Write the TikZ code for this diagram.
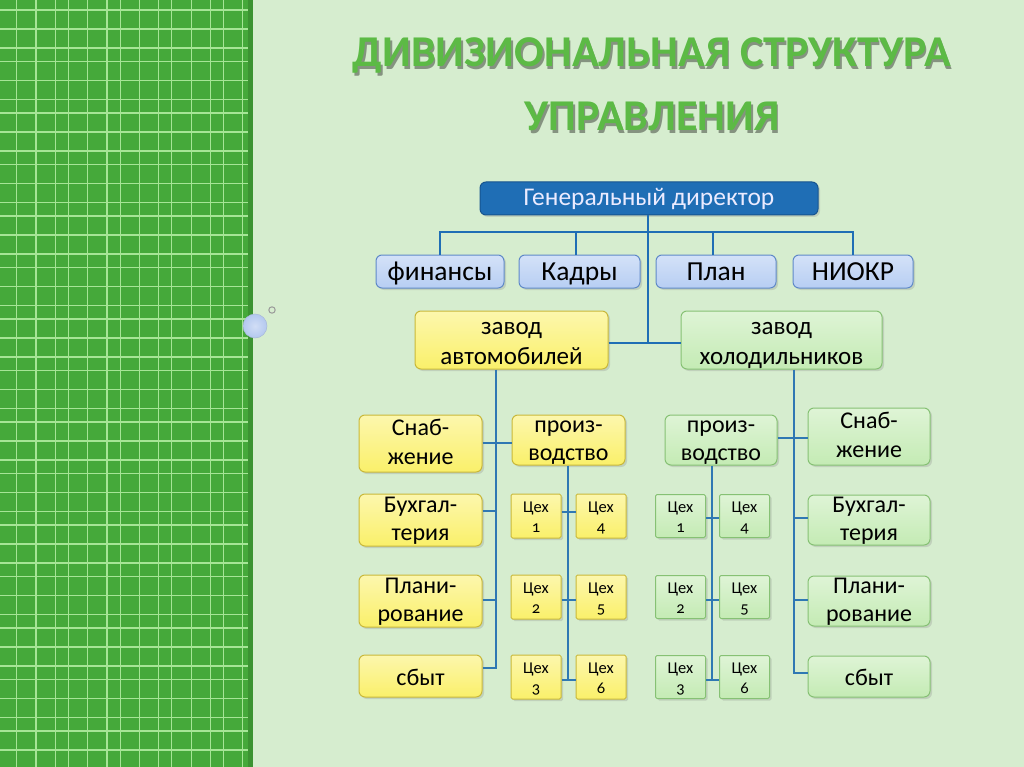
\documentclass[tikz,border=0pt]{standalone}
\usepackage{fontspec}
\setmainfont{Carlito}
\newfontfamily\numfont[Numbers=OldStyle]{Carlito}
\usetikzlibrary{shadows}
\definecolor{bgc}{HTML}{D6EDCF}
\definecolor{panelc}{HTML}{45A93A}
\definecolor{gridc}{HTML}{A6E596}
\definecolor{titlec}{HTML}{5CBA45}
\colorlet{titleshc}{bgc!62!black}
\definecolor{dirc}{HTML}{1F6EB5}
\definecolor{dirbord}{HTML}{17548F}
\definecolor{connc}{HTML}{2F78B3}
\definecolor{bluebox}{HTML}{B7CEF3}
\definecolor{blueboxb}{HTML}{5F89C8}
\definecolor{yelbox}{HTML}{FAF06A}
\definecolor{yelboxb}{HTML}{C9B83A}
\definecolor{grnbox}{HTML}{C4EBB4}
\definecolor{grnboxb}{HTML}{86C174}
\definecolor{dotc}{HTML}{B3C8EF}
\newcommand{\shtext}[1]{\rlap{\hspace{1.5pt}\raisebox{-2.5pt}{\textcolor{titleshc}{#1}}}\textcolor{titlec}{#1}}
\tikzset{
  boxbase/.style={rounded corners=6pt, line width=1pt, align=center, inner sep=1pt, text depth=0pt,
    drop shadow={shadow xshift=2pt, shadow yshift=-2pt, opacity=0.25}},
  dirbox/.style={boxbase, fill=dirc, draw=dirbord, text=blue!8, font=\fontsize{25.5}{27}\selectfont, text height=15pt},
  bbox/.style={boxbase, top color=bluebox!60!white, bottom color=bluebox, draw=blueboxb, font=\fontsize{27.5}{29}\selectfont, text height=17pt},
  ybox/.style={boxbase, top color=yelbox!55!white, bottom color=yelbox, draw=yelboxb, font=\fontsize{24}{28.5}\selectfont, text height=41pt},
  gbox/.style={boxbase, top color=grnbox!55!white, bottom color=grnbox, draw=grnboxb, font=\fontsize{24}{28.5}\selectfont, text height=41pt},
  oneline/.style={text height=18pt},
  plantfont/.style={font=\fontsize{25}{30}\selectfont, text height=48pt},
  ycex/.style={ybox, rounded corners=1.5pt, font=\fontsize{16.5}{19.5}\selectfont, minimum width=50pt, minimum height=44pt, text height=32pt},
  gcex/.style={gbox, rounded corners=1.5pt, font=\fontsize{16.5}{19.5}\selectfont, minimum width=50pt, minimum height=43pt, text height=32pt},
  topconn/.style={draw=dirc, line width=2.8pt},
  conn/.style={draw=connc, line width=1.3pt},
  titlefont/.style={font=\fontsize{44}{46}\bfseries, inner sep=0pt},
}
\begin{document}
\begin{tikzpicture}[x=1pt,y=-1pt]
\useasboundingbox (0,0) rectangle (1024,767);
% background
\fill[bgc] (0,0) rectangle (1024,767);
\fill[panelc] (0,0) rectangle (253,767);
\begin{scope}
\clip (0,0) rectangle (248,767);
\foreach \k in {0,...,4}
  \foreach \o in {16.7,36,55.3}
    \draw[gridc, line width=1.2pt] ({\k*51.7+\o},0) -- ++(0,767);
\foreach \k in {0,...,14}
  \foreach \o in {10,29,48}
    \draw[gridc, line width=1.2pt] (0,{\k*51.5+\o}) -- ++(248,0);
\end{scope}
\fill[panelc!75!black, opacity=0.5] (248,0) rectangle (253,767);
\shade[inner color=dotc!60!white, outer color=dotc, draw=dotc!80!gray, line width=0.5pt] (255,326) circle (12);
\draw[gray!80, line width=1pt] (272,310) circle (3.2);
% title
\node[titlefont] (t1) at (652,57) {\shtext{ДИВИЗИОНАЛЬНАЯ СТРУКТУРА}};
\node[titlefont] (t2) at (652,118) {\shtext{УПРАВЛЕНИЯ}};
% top level
\node[dirbox, minimum width=338pt, minimum height=33pt] (dir) at (649,198.5) {Генеральный директор};
\node[bbox, minimum width=128pt, minimum height=33pt] (fin) at (440,271.5) {финансы};
\node[bbox, minimum width=121pt, minimum height=33pt] (kad) at (579.5,271.5) {Кадры};
\node[bbox, minimum width=120pt, minimum height=33pt] (plan) at (716,271.5) {План};
\node[bbox, minimum width=120pt, minimum height=33pt] (niokr) at (853,271.5) {НИОКР};
\node[ybox, plantfont, minimum width=193pt, minimum height=58pt] (za) at (511.5,340) {завод\\автомобилей};
\node[gbox, plantfont, minimum width=201pt, minimum height=58pt] (zh) at (781.5,340) {завод\\холодильников};
% top connectors
\coordinate (bar) at (648,232);
\coordinate (hub) at (648,343);
\draw[topconn] (dir.south -| hub) -- (hub);
\draw[topconn] (fin.north) |- (bar) -| (niokr.north);
\draw[topconn] (kad.north -| 576,0) -- (576,232);
\draw[topconn] (plan.north -| 713,0) -- (713,232);
\draw[topconn] (za.east |- hub) -- (zh.west |- hub);
% left plant
\node[ybox, minimum width=123pt, minimum height=57pt] (ls1) at (420.5,443.5) {Снаб-\\жение};
\node[ybox, minimum width=123pt, minimum height=52pt] (ls2) at (420.5,520) {Бухгал-\\терия};
\node[ybox, minimum width=123pt, minimum height=52pt] (ls3) at (420.5,601) {Плани-\\рование};
\node[ybox, oneline, minimum width=123pt, minimum height=42pt] (ls4) at (420.5,676) {сбыт};
\node[ybox, minimum width=113pt, minimum height=50pt] (lp) at (568.5,440) {произ-\\водство};
\node[ycex] (lc1) at (536,516) {Цех\\{\numfont 1}};
\node[ycex] (lc2) at (536,597) {Цех\\{\numfont 2}};
\node[ycex] (lc3) at (536,677) {Цех\\{\numfont 3}};
\node[ycex] (lc4) at (601,516) {Цех\\{\numfont 4}};
\node[ycex] (lc5) at (601,597) {Цех\\{\numfont 5}};
\node[ycex] (lc6) at (601,677) {Цех\\{\numfont 6}};
\coordinate (lv) at (496,668);
\coordinate (lpv) at (568,680);
\draw[conn] (za.south -| lv) -- (lv) -- (ls4.east |- lv);
\draw[conn] (ls1.east |- 0,443) -- (lp.west |- 0,443);
\draw[conn] (ls2.east |- 0,511) -- (lv |- 0,511);
\draw[conn] (ls3.east |- 0,600) -- (lv |- 0,600);
\draw[conn] (lp.south -| lpv) -- (lpv);
\draw[conn] (lc1.east |- 0,512) -- (lc4.west |- 0,512);
\draw[conn] (lc2.east |- 0,600) -- (lc5.west |- 0,600);
\draw[conn] (lc3.east |- lpv) -- (lc6.west |- lpv);
% right plant
\node[gbox, minimum width=122pt, minimum height=57pt] (rs1) at (869,436.5) {Снаб-\\жение};
\node[gbox, minimum width=122pt, minimum height=50pt] (rs2) at (869,520) {Бухгал-\\терия};
\node[gbox, minimum width=122pt, minimum height=50pt] (rs3) at (869,601) {Плани-\\рование};
\node[gbox, oneline, minimum width=122pt, minimum height=41pt] (rs4) at (869,676.5) {сбыт};
\node[gbox, minimum width=112pt, minimum height=50pt] (rp) at (721,440) {произ-\\водство};
\node[gcex] (rc1) at (680.5,516) {Цех\\{\numfont 1}};
\node[gcex] (rc2) at (680.5,597) {Цех\\{\numfont 2}};
\node[gcex] (rc3) at (680.5,677) {Цех\\{\numfont 3}};
\node[gcex] (rc4) at (744.5,516) {Цех\\{\numfont 4}};
\node[gcex] (rc5) at (744.5,597) {Цех\\{\numfont 5}};
\node[gcex] (rc6) at (744.5,677) {Цех\\{\numfont 6}};
\coordinate (rv) at (794,673);
\coordinate (rpv) at (712,680);
\draw[conn] (zh.south -| rv) -- (rv) -- (rs4.west |- rv);
\draw[conn] (rp.east |- 0,438) -- (rs1.west |- 0,438);
\draw[conn] (rv |- 0,518) -- (rs2.west |- 0,518);
\draw[conn] (rv |- 0,600) -- (rs3.west |- 0,600);
\draw[conn] (rp.south -| rpv) -- (rpv);
\draw[conn] (rc1.east |- 0,518) -- (rc4.west |- 0,518);
\draw[conn] (rc2.east |- 0,600) -- (rc5.west |- 0,600);
\draw[conn] (rc3.east |- rpv) -- (rc6.west |- rpv);
\end{tikzpicture}
\end{document}
